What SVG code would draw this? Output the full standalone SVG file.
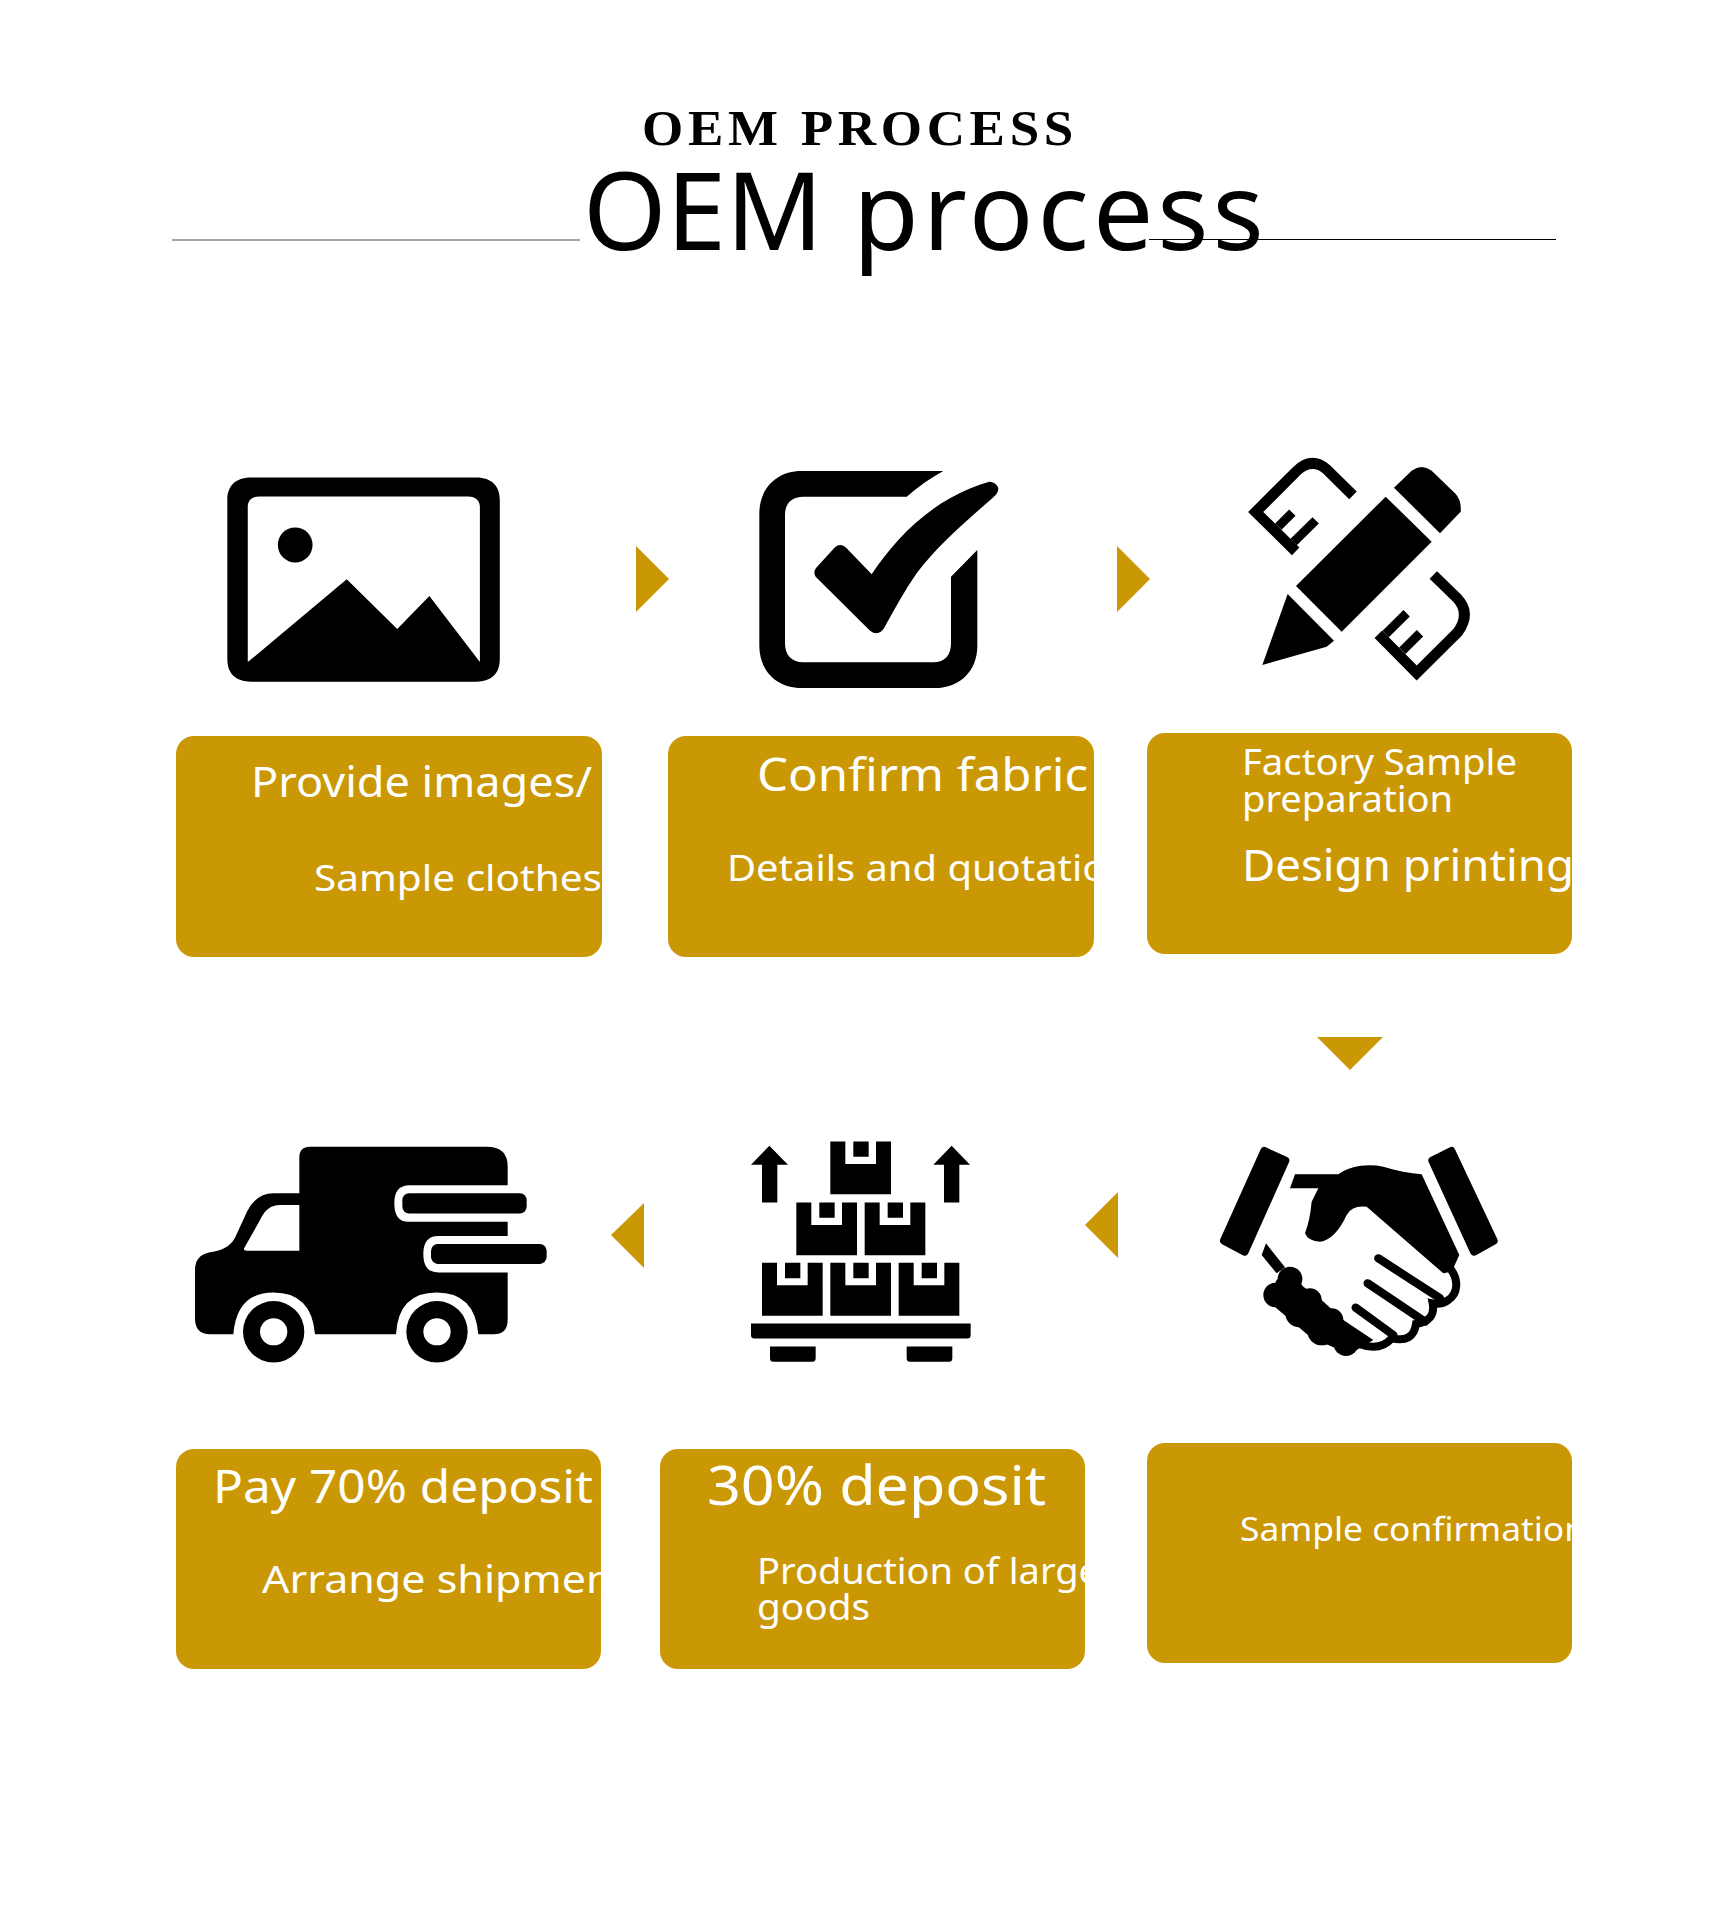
<svg xmlns="http://www.w3.org/2000/svg" xmlns:xlink="http://www.w3.org/1999/xlink" width="1728" height="1920" viewBox="0 0 1728 1920">
<style>
.box{fill:#cb9805}
.t{font-family:"Noto Sans","Open Sans",sans-serif;fill:#fff}
.arrow{fill:#cb9805}
.ic{fill:#000}
.st{fill:none;stroke:#000}
</style>
<defs>
<path id="crate" fill-rule="evenodd" d="M0 0H45V63H137V0H182V148H0ZM69 0H115V43H69Z"/>
</defs>
<rect width="1728" height="1920" fill="#fff"/>
<g id="title">
<text x="642" y="145" font-family="'Liberation Serif',serif" font-weight="700" font-size="50" letter-spacing="4.4" textLength="436" lengthAdjust="spacingAndGlyphs" fill="#000">OEM PROCESS</text>
<line x1="172" y1="240" x2="580" y2="240" stroke="#888" stroke-width="1.5"/>
<line x1="1149" y1="239.5" x2="1556" y2="239.5" stroke="#000" stroke-width="1"/>
<text x="583" y="250" font-family="'Noto Sans',sans-serif" font-size="107" fill="#000">OEM <tspan x="853" letter-spacing="4">process</tspan></text>
</g>
<g id="connectors">
<polygon class="arrow" points="636,546 669,579 636,612"/>
<polygon class="arrow" points="1117,546 1150,579 1117,612"/>
<polygon class="arrow" points="1317,1037 1383,1037 1350,1070"/>
<polygon class="arrow" points="1118,1192 1085,1225 1118,1258"/>
<polygon class="arrow" points="644,1203 611,1235 644,1268"/>
</g>
<g id="node-images">
<g transform="translate(160 430) scale(.5102 .3571)">
<path class="ic" fill-rule="evenodd" d="M178 133H620C650 133 666 157 666 195V643C666 681 650 705 620 705H178C148 705 132 681 132 643V195C132 157 148 133 178 133ZM195 186C180 186 172 198 172 215V650L366 418L465 557L528 465L627 650V215C627 198 619 186 604 186Z"/>
<ellipse class="ic" cx="265" cy="322" rx="34" ry="49"/>
</g>
<rect class="box" x="176" y="736" width="426" height="221" rx="18"/>
<text class="t" x="251" y="797" font-size="41" textLength="341" lengthAdjust="spacingAndGlyphs">Provide images/</text>
<text class="t" x="314" y="891" font-size="37" textLength="288" lengthAdjust="spacingAndGlyphs">Sample clothes</text>
</g>
<g id="node-fabric">
<g transform="translate(750 460) scale(.33333)">
<path class="ic" d="M580 33H155C80 33 28 85 28 160V557C28 632 80 684 155 684H555C630 684 682 632 682 557V270L603 350V550C603 585 585 607 550 607H160C125 607 105 585 105 550V165C105 130 125 110 160 110H470C505 80 540 55 580 33Z"/>
<path class="ic" d="M197 350Q188 335 200 322L255 262Q270 248 287 262L365 343C420 260 500 170 600 115C640 92 680 75 718 65Q738 65 745 85Q745 100 730 112C640 190 560 260 500 340C465 390 435 445 402 505Q385 530 360 512Z"/>
</g>
<rect class="box" x="668" y="736" width="426" height="221" rx="18"/>
<text class="t" x="757" y="791" font-size="45" textLength="331" lengthAdjust="spacingAndGlyphs">Confirm fabric</text>
<text class="t" x="727" y="881" font-size="37" textLength="404" lengthAdjust="spacingAndGlyphs">Details and quotation</text>
</g>
<g id="node-sample">
<g transform="translate(1230 450) scale(.33333)">
<polygon class="ic" points="467,140 605,275 335,545 198,408"/>
<path class="ic" d="M492 113L545 62Q575 40 605 62L675 130Q695 150 692 185L630 250Z"/>
<path class="ic" d="M173 432L312 572L290 590L97 645Z"/>
<path class="st" stroke-width="32" d="M369 136L290 58Q245 20 200 63L77 186L197 304"/>
<path class="st" stroke-width="27" d="M187 188L145 230M257 211L191 276"/>
<path class="st" stroke-width="32" d="M610 375L680 443Q725 490 683 547L560 669L445 553"/>
<path class="st" stroke-width="27" d="M530 490L467 552M570 550L517 602"/>
</g>
<rect class="box" x="1147" y="733" width="425" height="221" rx="18"/>
<text class="t" x="1242" y="775" font-size="36" textLength="275" lengthAdjust="spacingAndGlyphs">Factory Sample</text>
<text class="t" x="1242" y="812" font-size="36" textLength="211" lengthAdjust="spacingAndGlyphs">preparation</text>
<text class="t" x="1242" y="881" font-size="44" textLength="332" lengthAdjust="spacingAndGlyphs">Design printing</text>
</g>
<g id="node-confirm">
<g transform="translate(1210 1130) scale(.33333)">
<path class="ic" stroke="#000" stroke-width="24" stroke-linejoin="round" d="M163 63L226 92L104 365L42 332Z"/>
<path class="ic" stroke="#000" stroke-width="24" stroke-linejoin="round" d="M724 63L667 92L792 365L851 332Z"/>
<path class="ic" d="M255 133H385C420 108 470 100 520 110C560 122 600 130 635 133L748 375L725 425L700 430L470 230Q425 225 410 255Q375 330 330 335Q295 335 285 310Q300 270 305 215L325 175H240Z"/>
<path class="st" stroke-width="24" stroke-linecap="round" d="M724 420C745 450 745 490 715 510Q695 525 668 520Q678 572 618 582Q610 640 545 625Q510 665 448 642"/>
<path class="st" stroke-width="25" stroke-linecap="round" d="M505 385L690 505M473 460L645 575M437 533L550 615"/>
<polygon class="ic" points="168,340 155,375 200,430 225,412"/>
<path class="ic" d="M240 420L280 470L335 510L400 570L490 630L440 660L410 670L300 620L170 510L200 450Z"/>
<circle class="ic" cx="240" cy="447" r="37"/><circle class="ic" cx="197" cy="495" r="37"/><circle class="ic" cx="300" cy="510" r="35"/><circle class="ic" cx="268" cy="550" r="42"/><circle class="ic" cx="365" cy="570" r="35"/><circle class="ic" cx="335" cy="603" r="43"/><circle class="ic" cx="408" cy="640" r="38"/>
</g>
<rect class="box" x="1147" y="1443" width="425" height="220" rx="18"/>
<text class="t" x="1240" y="1541" font-size="33" textLength="346" lengthAdjust="spacingAndGlyphs">Sample confirmation</text>
</g>
<g id="node-deposit">
<g transform="translate(640 1120) scale(.33333 .35714)">
<use href="#crate" x="571" y="60"/>
<use href="#crate" x="469" y="231"/><use href="#crate" x="674" y="231"/>
<use href="#crate" x="366" y="400"/><use href="#crate" x="571" y="400"/><use href="#crate" x="776" y="400"/>
<path class="ic" d="M333 570H992V602Q992 612 982 612H343Q333 612 333 602Z"/>
<path class="ic" d="M390 634H527V667Q527 677 517 677H400Q390 677 390 667Z"/>
<path class="ic" d="M800 634H937V667Q937 677 927 677H810Q800 677 800 667Z"/>
<path class="ic" d="M388 72L444 125H412V231H366V125H333Z"/>
<path class="ic" d="M935 72L990 125H958V231H912V125H880Z"/>
</g>
<rect class="box" x="660" y="1449" width="425" height="220" rx="18"/>
<text class="t" x="707" y="1505" font-size="55" textLength="339" lengthAdjust="spacingAndGlyphs">30% deposit</text>
<text class="t" x="757" y="1584" font-size="36" textLength="343" lengthAdjust="spacingAndGlyphs">Production of large</text>
<text class="t" x="757" y="1620" font-size="36" textLength="113" lengthAdjust="spacingAndGlyphs">goods</text>
</g>
<g id="node-shipment">
<g transform="translate(160 1120) scale(.33333 .35714)">
<path class="ic" d="M418 205V105Q418 75 450 75H980Q1043 75 1043 130V183H745Q703 185 703 233Q703 285 745 285H1043V325H835Q790 325 790 375Q790 427 835 427H1043V560Q1043 600 1000 600H955Q945 483 830 483Q715 483 708 600H465Q455 483 340 483Q230 483 220 600H150Q105 600 105 555V420Q105 378 150 370Q205 365 225 330L262 255Q290 205 340 205Z"/>
<path fill="#fff" d="M418 238H360Q320 238 300 280L252 360Q250 366 260 366H418Z"/>
<rect class="ic" x="727" y="205" width="373" height="57" rx="20"/>
<rect class="ic" x="813" y="347" width="347" height="56" rx="20"/>
<ellipse class="ic" cx="341" cy="593" rx="92" ry="86"/><ellipse fill="#fff" cx="341" cy="593" rx="41" ry="38"/>
<ellipse class="ic" cx="831" cy="593" rx="92" ry="86"/><ellipse fill="#fff" cx="831" cy="593" rx="41" ry="38"/>
</g>
<rect class="box" x="176" y="1449" width="425" height="220" rx="18"/>
<text class="t" x="213" y="1503" font-size="45" textLength="380" lengthAdjust="spacingAndGlyphs">Pay 70% deposit</text>
<text class="t" x="262" y="1593" font-size="39" textLength="366" lengthAdjust="spacingAndGlyphs">Arrange shipment</text>
</g>
</svg>
